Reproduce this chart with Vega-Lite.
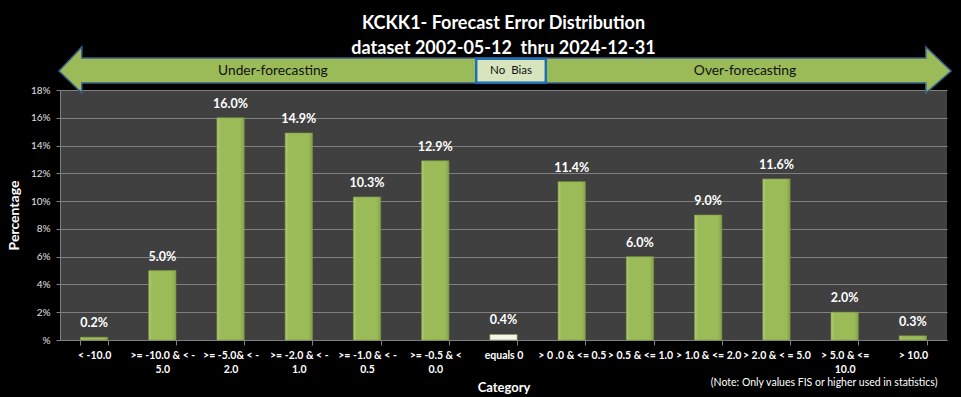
{
  "$schema": "https://vega.github.io/schema/vega-lite/v6.json",
  "autosize": {"type": "none"},
  "width": 887,
  "height": 250,
  "padding": {"left": 60, "top": 90, "right": 14, "bottom": 57},
  "background": "#000000",
  "view": {"fill": "#404040", "stroke": null},
  "config": {
    "font": "Lato",
    "axis": {"labelFont": "Lato", "titleFont": "Lato"}
  },
  "title": {
    "text": ["KCKK1- Forecast Error Distribution", "dataset 2002-05-12\u00a0 thru 2024-12-31"],
    "font": "Lato",
    "fontSize": 18,
    "fontWeight": "bold",
    "color": "#ffffff",
    "lineHeight": 25,
    "offset": -10,
    "dy": 4
  },
  "datasets": {
    "dist": [
      {"category": "< -10.0", "pct": 0.002},
      {"category": ">= -10.0 & < -5.0", "pct": 0.050},
      {"category": ">= -5.0& < -2.0", "pct": 0.160},
      {"category": ">= -2.0 & < -1.0", "pct": 0.149},
      {"category": ">= -1.0 & < -0.5", "pct": 0.103},
      {"category": ">= -0.5 & < 0.0", "pct": 0.129},
      {"category": "equals 0", "pct": 0.004},
      {"category": "> 0 .0 & <= 0.5", "pct": 0.114},
      {"category": "> 0.5 & <= 1.0", "pct": 0.060},
      {"category": "> 1.0 & <= 2.0", "pct": 0.090},
      {"category": "> 2.0 & < = 5.0", "pct": 0.116},
      {"category": "> 5.0 & <= 10.0", "pct": 0.020},
      {"category": "> 10.0", "pct": 0.003}
    ],
    "arrow": [
      {"ax": -0.015, "top": 0.1937, "bottom": 0.1937},
      {"ax": 0.32, "top": 0.2110, "bottom": 0.1778},
      {"ax": 0.32, "top": 0.2030, "bottom": 0.1850},
      {"ax": 12.69, "top": 0.2030, "bottom": 0.1850},
      {"ax": 12.69, "top": 0.2110, "bottom": 0.1778},
      {"ax": 13.06, "top": 0.1937, "bottom": 0.1937}
    ],
    "box": [
      {"x1": 6.1, "x2": 7.12, "top": 0.2025, "bottom": 0.1852}
    ],
    "bandLabels": [
      {"tx": 3.12, "ty": 0.1937, "label": "Under-forecasting"},
      {"tx": 10.04, "ty": 0.1937, "label": "Over-forecasting"}
    ],
    "boxLabel": [
      {"tx": 6.61, "ty": 0.1937, "label": "No\u00a0 Bias"}
    ],
    "note": [
      {"tx": 12.86, "ty": -0.031, "label": "(Note: Only values FIS or higher used in statistics)"}
    ]
  },
  "resolve": {
    "scale": {"x": "independent"},
    "axis": {"x": "independent", "y": "independent"}
  },
  "layer": [
    {
      "data": {"name": "dist"},
      "encoding": {
        "x": {
          "field": "category",
          "type": "nominal",
          "sort": null,
          "scale": {"paddingInner": 0.6, "paddingOuter": 0.3},
          "axis": {
            "title": "Category",
            "titleColor": "#ffffff",
            "titleFontSize": 13,
            "titleFontWeight": "bold",
            "titlePadding": 7,
            "labelAngle": 0,
            "labelColor": "#ffffff",
            "labelFontSize": 10.5,
            "labelFontWeight": "bold",
            "labelLineHeight": 14,
            "labelPadding": 5,
            "labelLimit": 200,
            "labelOverlap": false,
            "tickBand": "extent",
            "tickColor": "#808080",
            "tickSize": 5,
            "domainColor": "#808080",
            "labelExpr": "datum.label === '>= -10.0 & < -5.0' ? ['>= -10.0 & < -', '5.0'] : datum.label === '>= -5.0& < -2.0' ? ['>= -5.0& < -', '2.0'] : datum.label === '>= -2.0 & < -1.0' ? ['>= -2.0 & < -', '1.0'] : datum.label === '>= -1.0 & < -0.5' ? ['>= -1.0 & < -', '0.5'] : datum.label === '>= -0.5 & < 0.0' ? ['>= -0.5 & <', '0.0'] : datum.label === '> 5.0 & <= 10.0' ? ['> 5.0 & <=', '10.0'] : datum.label"
          }
        },
        "y": {
          "field": "pct",
          "type": "quantitative",
          "scale": {"domain": [0, 0.18], "nice": false},
          "axis": {
            "title": "Percentage",
            "values": [0, 0.02, 0.04, 0.06, 0.08, 0.1, 0.12, 0.14, 0.16, 0.18],
            "labelExpr": "datum.value === 0 ? '%' : format(datum.value, '.0%')",
            "titleColor": "#ffffff",
            "titleFontSize": 14,
            "titleFontWeight": "bold",
            "titlePadding": 9,
            "labelColor": "#e0e0e0",
            "labelFontSize": 10,
            "labelPadding": 6,
            "labelOverlap": false,
            "tickColor": "#808080",
            "tickSize": 4,
            "domainColor": "#808080",
            "gridColor": "#808080",
            "gridWidth": 1
          }
        }
      },
      "layer": [
        {
          "mark": {
            "type": "bar",
            "clip": false,
            "stroke": "#7f9a45",
            "strokeWidth": 0.6
          },
          "encoding": {
            "color": {
              "condition": {"test": "datum.category === 'equals 0'", "value": "#f4f6ee"},
              "value": {
                "gradient": "linear",
                "x1": 0, "y1": 0, "x2": 1, "y2": 0,
                "stops": [
                  {"offset": 0, "color": "#b3cd78"},
                  {"offset": 0.12, "color": "#9bbb59"},
                  {"offset": 0.85, "color": "#9bbb59"},
                  {"offset": 1, "color": "#86a24a"}
                ]
              }
            }
          }
        },
        {
          "mark": {
            "type": "text",
            "baseline": "bottom",
            "dy": -7,
            "color": "#ffffff",
            "fontSize": 12.5,
            "fontWeight": "bold",
            "clip": false
          },
          "encoding": {
            "text": {"field": "pct", "type": "quantitative", "format": ".1%"}
          }
        }
      ]
    },
    {
      "layer": [
        {
          "data": {"name": "arrow"},
          "mark": {"type": "area", "fill": "#9bbb59", "stroke": "#3a5d8c", "strokeWidth": 1.5, "clip": false, "opacity": 1},
          "encoding": {
            "x": {"field": "ax", "type": "quantitative", "scale": {"domain": [0, 13], "nice": false, "zero": false}, "axis": null},
            "y": {"field": "top", "type": "quantitative", "scale": {"domain": [0, 0.18], "nice": false}, "axis": null},
            "y2": {"field": "bottom"}
          }
        },
        {
          "data": {"name": "box"},
          "mark": {"type": "rect", "fill": "#d7e4bd", "stroke": "#1f6fb3", "strokeWidth": 2.5, "clip": false},
          "encoding": {
            "x": {"field": "x1", "type": "quantitative", "scale": {"domain": [0, 13], "nice": false, "zero": false}, "axis": null},
            "x2": {"field": "x2"},
            "y": {"field": "top", "type": "quantitative", "scale": {"domain": [0, 0.18], "nice": false}, "axis": null},
            "y2": {"field": "bottom"}
          }
        },
        {
          "data": {"name": "bandLabels"},
          "mark": {"type": "text", "color": "#111111", "fontSize": 13.8, "baseline": "middle", "align": "center", "clip": false},
          "encoding": {
            "x": {"field": "tx", "type": "quantitative", "scale": {"domain": [0, 13], "nice": false, "zero": false}, "axis": null},
            "y": {"field": "ty", "type": "quantitative", "scale": {"domain": [0, 0.18], "nice": false}, "axis": null},
            "text": {"field": "label"}
          }
        },
        {
          "data": {"name": "boxLabel"},
          "mark": {"type": "text", "color": "#111111", "fontSize": 11.5, "baseline": "middle", "align": "center", "clip": false},
          "encoding": {
            "x": {"field": "tx", "type": "quantitative", "scale": {"domain": [0, 13], "nice": false, "zero": false}, "axis": null},
            "y": {"field": "ty", "type": "quantitative", "scale": {"domain": [0, 0.18], "nice": false}, "axis": null},
            "text": {"field": "label"}
          }
        },
        {
          "data": {"name": "note"},
          "mark": {"type": "text", "color": "#ffffff", "fontSize": 10.5, "baseline": "middle", "align": "right", "clip": false},
          "encoding": {
            "x": {"field": "tx", "type": "quantitative", "scale": {"domain": [0, 13], "nice": false, "zero": false}, "axis": null},
            "y": {"field": "ty", "type": "quantitative", "scale": {"domain": [0, 0.18], "nice": false}, "axis": null},
            "text": {"field": "label"}
          }
        }
      ]
    }
  ]
}
